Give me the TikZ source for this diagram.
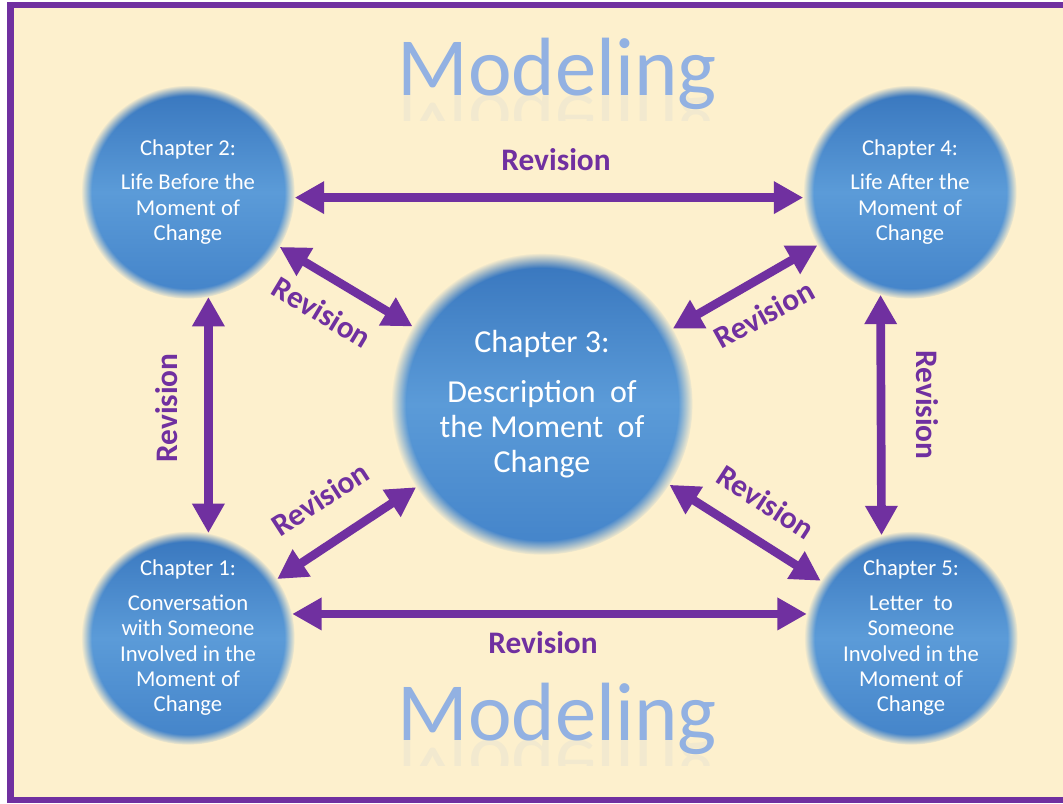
\documentclass[tikz,border=0pt]{standalone}
\usepackage{fontspec}
\setmainfont{Carlito}
\usepackage{xcolor}
\usepackage{tikz}
\usetikzlibrary{arrows.meta, fadings}
\definecolor{frame}{HTML}{7030A0}
\definecolor{paper}{HTML}{FDF0CD}
\definecolor{bluetop}{HTML}{3775BD}
\definecolor{bluemid}{HTML}{5B9BD8}
\definecolor{bluebot}{HTML}{4383C9}
\definecolor{model}{HTML}{92B1E2}
\tikzstyle{chapter} = [circle, minimum size=160pt, inner sep=0pt, top color=bluetop, bottom color=bluebot, middle color=bluemid, path fading=circle with fuzzy edge 10 percent, text=white, align=center, font=\fontsize{17}{19}\selectfont]
\tikzstyle{core} = [chapter, minimum size=226pt, font=\fontsize{24}{26.5}\selectfont]
\tikzstyle{arrow} = [line width=6.5pt, draw=frame, {Triangle[width=23pt,length=22pt]}-{Triangle[width=23pt,length=22pt]}]
\tikzstyle{revision} = [text=frame, font=\bfseries\fontsize{23.5}{26}\selectfont]
\tikzstyle{modeling} = [text=model, anchor=base, font=\fontsize{62}{70}\selectfont]

\begin{document}
\begin{tikzpicture}[x=0.75pt, y=-0.75pt]
	\useasboundingbox (0,0) rectangle (1063,803);
	\fill [white] (0,0) rectangle (1063,803);
	\fill [frame] (7,2) rectangle (1063,803);
	\fill [paper] (14,8) rectangle (1063,797);

	% title and its reflection
	\node (modtop) [modeling] at (557,95) {Modeling};
	\begin{scope}
		\clip (380,95) rectangle (740,120);
		\node (modtopr) [modeling, yscale=-1, opacity=0.1] at (557,95) {Modeling};
	\end{scope}
	\node (modbot) [modeling] at (557,740) {Modeling};
	\begin{scope}
		\clip (380,740) rectangle (740,765);
		\node (modbotr) [modeling, yscale=-1, opacity=0.1] at (557,740) {Modeling};
	\end{scope}

	% chapters
	\node (ch3) [core] at (542,404) {Chapter 3:\\[11pt] Description~ of\\ the Moment~ of\\ Change};
	\node (ch2) [chapter] at (188,192) {Chapter 2:\\[7pt] Life Before the\\ Moment of\\ Change};
	\node (ch4) [chapter] at (910,192) {Chapter 4:\\[7pt] Life After the\\ Moment of\\ Change};
	\node (ch1) [chapter] at (188,638) {Chapter 1:\\[7pt] Conversation\\ with Someone\\ Involved in the\\ Moment of\\ Change};
	\node (ch5) [chapter] at (911,638) {Chapter 5:\\[7pt] Letter~ to\\ Someone\\ Involved in the\\ Moment of\\ Change};

	% revision arrows
	\draw [arrow] (ch2.-3) -- (ch4.183);
	\draw [arrow] (ch1.13) -- (ch5.167);
	\draw [arrow] (ch2.-79) -- (ch1.79);
	\draw [arrow] (ch4.-106) -- (ch5.106);
	\draw [arrow] (ch2) -- (ch3);
	\draw [arrow] (ch3) -- (ch4);
	\draw [arrow] (ch1) -- (ch3);
	\draw [arrow] (ch3) -- (ch5);

	\node (revtop) [revision] at (556,160) {Revision};
	\node (revbot) [revision] at (543,643) {Revision};
	\node (revleft) [revision, rotate=90] at (167,408) {Revision};
	\node (revright) [revision, rotate=-90] at (927,405) {Revision};
	\node (revtl) [revision, rotate=-31] at (322,312) {Revision};
	\node (revtr) [revision, rotate=29] at (764,314) {Revision};
	\node (revbl) [revision, rotate=33] at (320,499) {Revision};
	\node (revbr) [revision, rotate=-33] at (766,502) {Revision};
\end{tikzpicture}
\end{document}
